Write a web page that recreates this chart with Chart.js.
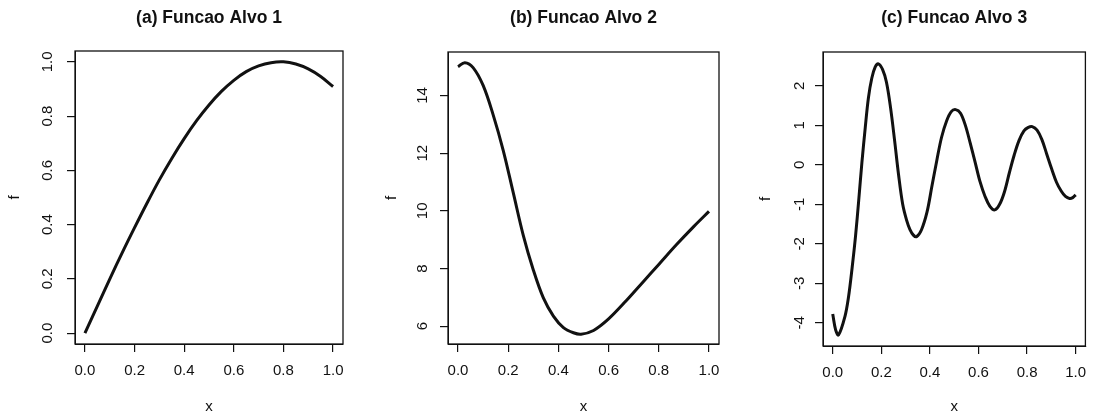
<!DOCTYPE html>
<html>
<head>
<meta charset="utf-8">
<script src="https://cdn.jsdelivr.net/npm/chart.js@4"></script>
<style>
  body { margin: 0; background: #fff; }
  #wrap { position: relative; width: 1096px; height: 420px; }
  canvas { position: absolute; top: 0; }
</style>
</head>
<body>
<div id="wrap">
  <canvas id="c1"></canvas>
  <canvas id="c2"></canvas>
  <canvas id="c3"></canvas>
</div>
<script>
// titles
const titles = ['(a) Funcao Alvo 1', '(b) Funcao Alvo 2', '(c) Funcao Alvo 3'];

// shared x ticks
const xTicks = [0, 0.2, 0.4, 0.6, 0.8, 1.0];

// (a)
const xA = [0, 0.05, 0.10, 0.15, 0.20, 0.25, 0.30, 0.35, 0.40, 0.45, 0.50, 0.55, 0.60, 0.65, 0.70, 0.75, 0.80, 0.85, 0.90, 0.95, 1.00];
const yA = [0, 0.10, 0.199, 0.296, 0.389, 0.479, 0.565, 0.644, 0.717, 0.783, 0.841, 0.891, 0.932, 0.964, 0.985, 0.997, 1.0, 0.992, 0.974, 0.946, 0.909];
const yTicksA = [0, 0.2, 0.4, 0.6, 0.8, 1.0];

// (b)
const xB = [0, 0.027, 0.06, 0.10, 0.14, 0.18, 0.22, 0.26, 0.30, 0.34, 0.38, 0.42, 0.46, 0.49, 0.54, 0.60, 0.67, 0.74, 0.80, 0.87, 0.94, 1.00];
const yB = [15.00, 15.14, 14.97, 14.35, 13.33, 12.10, 10.63, 9.15, 7.95, 6.98, 6.35, 5.95, 5.77, 5.72, 5.85, 6.25, 6.88, 7.56, 8.14, 8.82, 9.46, 9.98];
const yTicksB = [6, 8, 10, 12, 14];

// (c)
const xC = [0, 0.012, 0.024, 0.05, 0.065, 0.08, 0.094, 0.107, 0.12, 0.134, 0.147, 0.161, 0.175, 0.188,
            0.205, 0.221, 0.238, 0.255, 0.271, 0.288, 0.304, 0.318, 0.332, 0.345,
            0.365, 0.388, 0.408, 0.428, 0.448, 0.469, 0.488, 0.506,
            0.526, 0.546, 0.566, 0.586, 0.606, 0.627, 0.647, 0.667,
            0.687, 0.707, 0.727, 0.747, 0.767, 0.787, 0.805, 0.821,
            0.841, 0.861, 0.881, 0.901, 0.921, 0.941, 0.958, 0.975, 0.988, 1.0];
const yC = [-3.78, -4.18, -4.31, -3.85, -3.35, -2.6, -1.8, -0.9, 0.05, 0.95, 1.7, 2.2, 2.48, 2.56,
            2.42, 2.1, 1.45, 0.6, -0.25, -1.0, -1.40, -1.64, -1.78, -1.82,
            -1.65, -1.2, -0.55, 0.1, 0.7, 1.12, 1.35, 1.40,
            1.31, 1.0, 0.55, 0.07, -0.42, -0.80, -1.05, -1.14,
            -1.0, -0.68, -0.2, 0.25, 0.62, 0.86, 0.95, 0.97,
            0.88, 0.64, 0.27, -0.1, -0.44, -0.67, -0.8, -0.85, -0.83, -0.76];
const yTicksC = [-4, -3, -2, -1, 0, 1, 2];

Chart.defaults.font.family = '"Liberation Sans", Arial, Helvetica, sans-serif';
Chart.defaults.color = '#111';

// draws the R style box round the plot region
const boxPlugin = {
  id: 'box',
  afterDraw(chart) {
    const a = chart.chartArea;
    const ctx = chart.ctx;
    ctx.save();
    ctx.strokeStyle = '#111';
    ctx.lineWidth = 1.3;
    ctx.strokeRect(a.left, a.top, a.right - a.left, a.bottom - a.top);
    ctx.restore();
  }
};

function makePanel(id, p) {
  const cv = document.getElementById(id);
  cv.width = p.width;
  cv.height = 420;
  cv.style.left = p.left + 'px';
  new Chart(cv, {
    type: 'line',
    data: {
      datasets: [{
        data: p.xs.map((x, i) => ({x: x, y: p.ys[i]})),
        borderColor: '#111',
        borderWidth: 3,
        pointRadius: 0,
        fill: false,
        tension: 0.35
      }]
    },
    options: {
      responsive: false,
      animation: false,
      layout: {padding: {left: 0, right: p.padRight, top: 0, bottom: 0}},
      plugins: {
        legend: {display: false},
        tooltip: {enabled: false},
        title: {
          display: true,
          text: p.title,
          fullSize: false,
          color: '#111',
          font: {size: 17.5, weight: 'bold'},
          padding: {top: 7.5, bottom: p.boxTop - 7.5 - 21}
        }
      },
      scales: {
        x: {
          type: 'linear',
          min: -0.04,
          max: 1.04,
          afterBuildTicks: s => { s.ticks = xTicks.map(v => ({value: v})); },
          afterFit: s => { s.height = 420 - p.boxBottom; },
          ticks: {callback: v => v.toFixed(1), font: {size: 15}, padding: 9.5, maxRotation: 0, color: '#111'},
          grid: {drawOnChartArea: false, tickLength: 8, color: '#111', lineWidth: 1.2},
          border: {display: true, color: '#111'},
          title: {display: true, text: 'x', font: {size: 15}, padding: {top: 0, bottom: 4}, color: '#111'}
        },
        y: {
          min: p.yMin,
          max: p.yMax,
          afterBuildTicks: s => { s.ticks = p.yTicks.map(v => ({value: v})); },
          afterFit: s => { s.width = p.boxLeft - p.left; },
          ticks: {callback: p.fmt, font: {size: 15}, padding: 8.5, minRotation: 90, maxRotation: 90, crossAlign: 'center', color: '#111'},
          grid: {drawOnChartArea: false, tickLength: 8, color: '#111', lineWidth: 1.2},
          border: {display: true, color: '#111'},
          title: {display: true, text: 'f', font: {size: 15}, padding: {top: p.fPad, bottom: 0}, color: '#111'}
        }
      }
    },
    plugins: [boxPlugin]
  });
}

makePanel('c1', {
  title: titles[0], xs: xA, ys: yA, yTicks: yTicksA, yMin: -0.04, yMax: 1.04,
  fmt: v => v.toFixed(1),
  left: 0, width: 373, boxLeft: 75, padRight: 30, boxTop: 51, boxBottom: 344, fPad: 6
});
makePanel('c2', {
  title: titles[1], xs: xB, ys: yB, yTicks: yTicksB, yMin: 5.38, yMax: 15.51,
  fmt: v => String(v),
  left: 373, width: 375, boxLeft: 448, padRight: 29, boxTop: 52, boxBottom: 344, fPad: 9.5
});
makePanel('c3', {
  title: titles[2], xs: xC, ys: yC, yTicks: yTicksC, yMin: -4.59, yMax: 2.86,
  fmt: v => String(v),
  left: 748, width: 348, boxLeft: 823, padRight: 2, boxTop: 52, boxBottom: 346, fPad: 9
});
</script>
</body>
</html>
